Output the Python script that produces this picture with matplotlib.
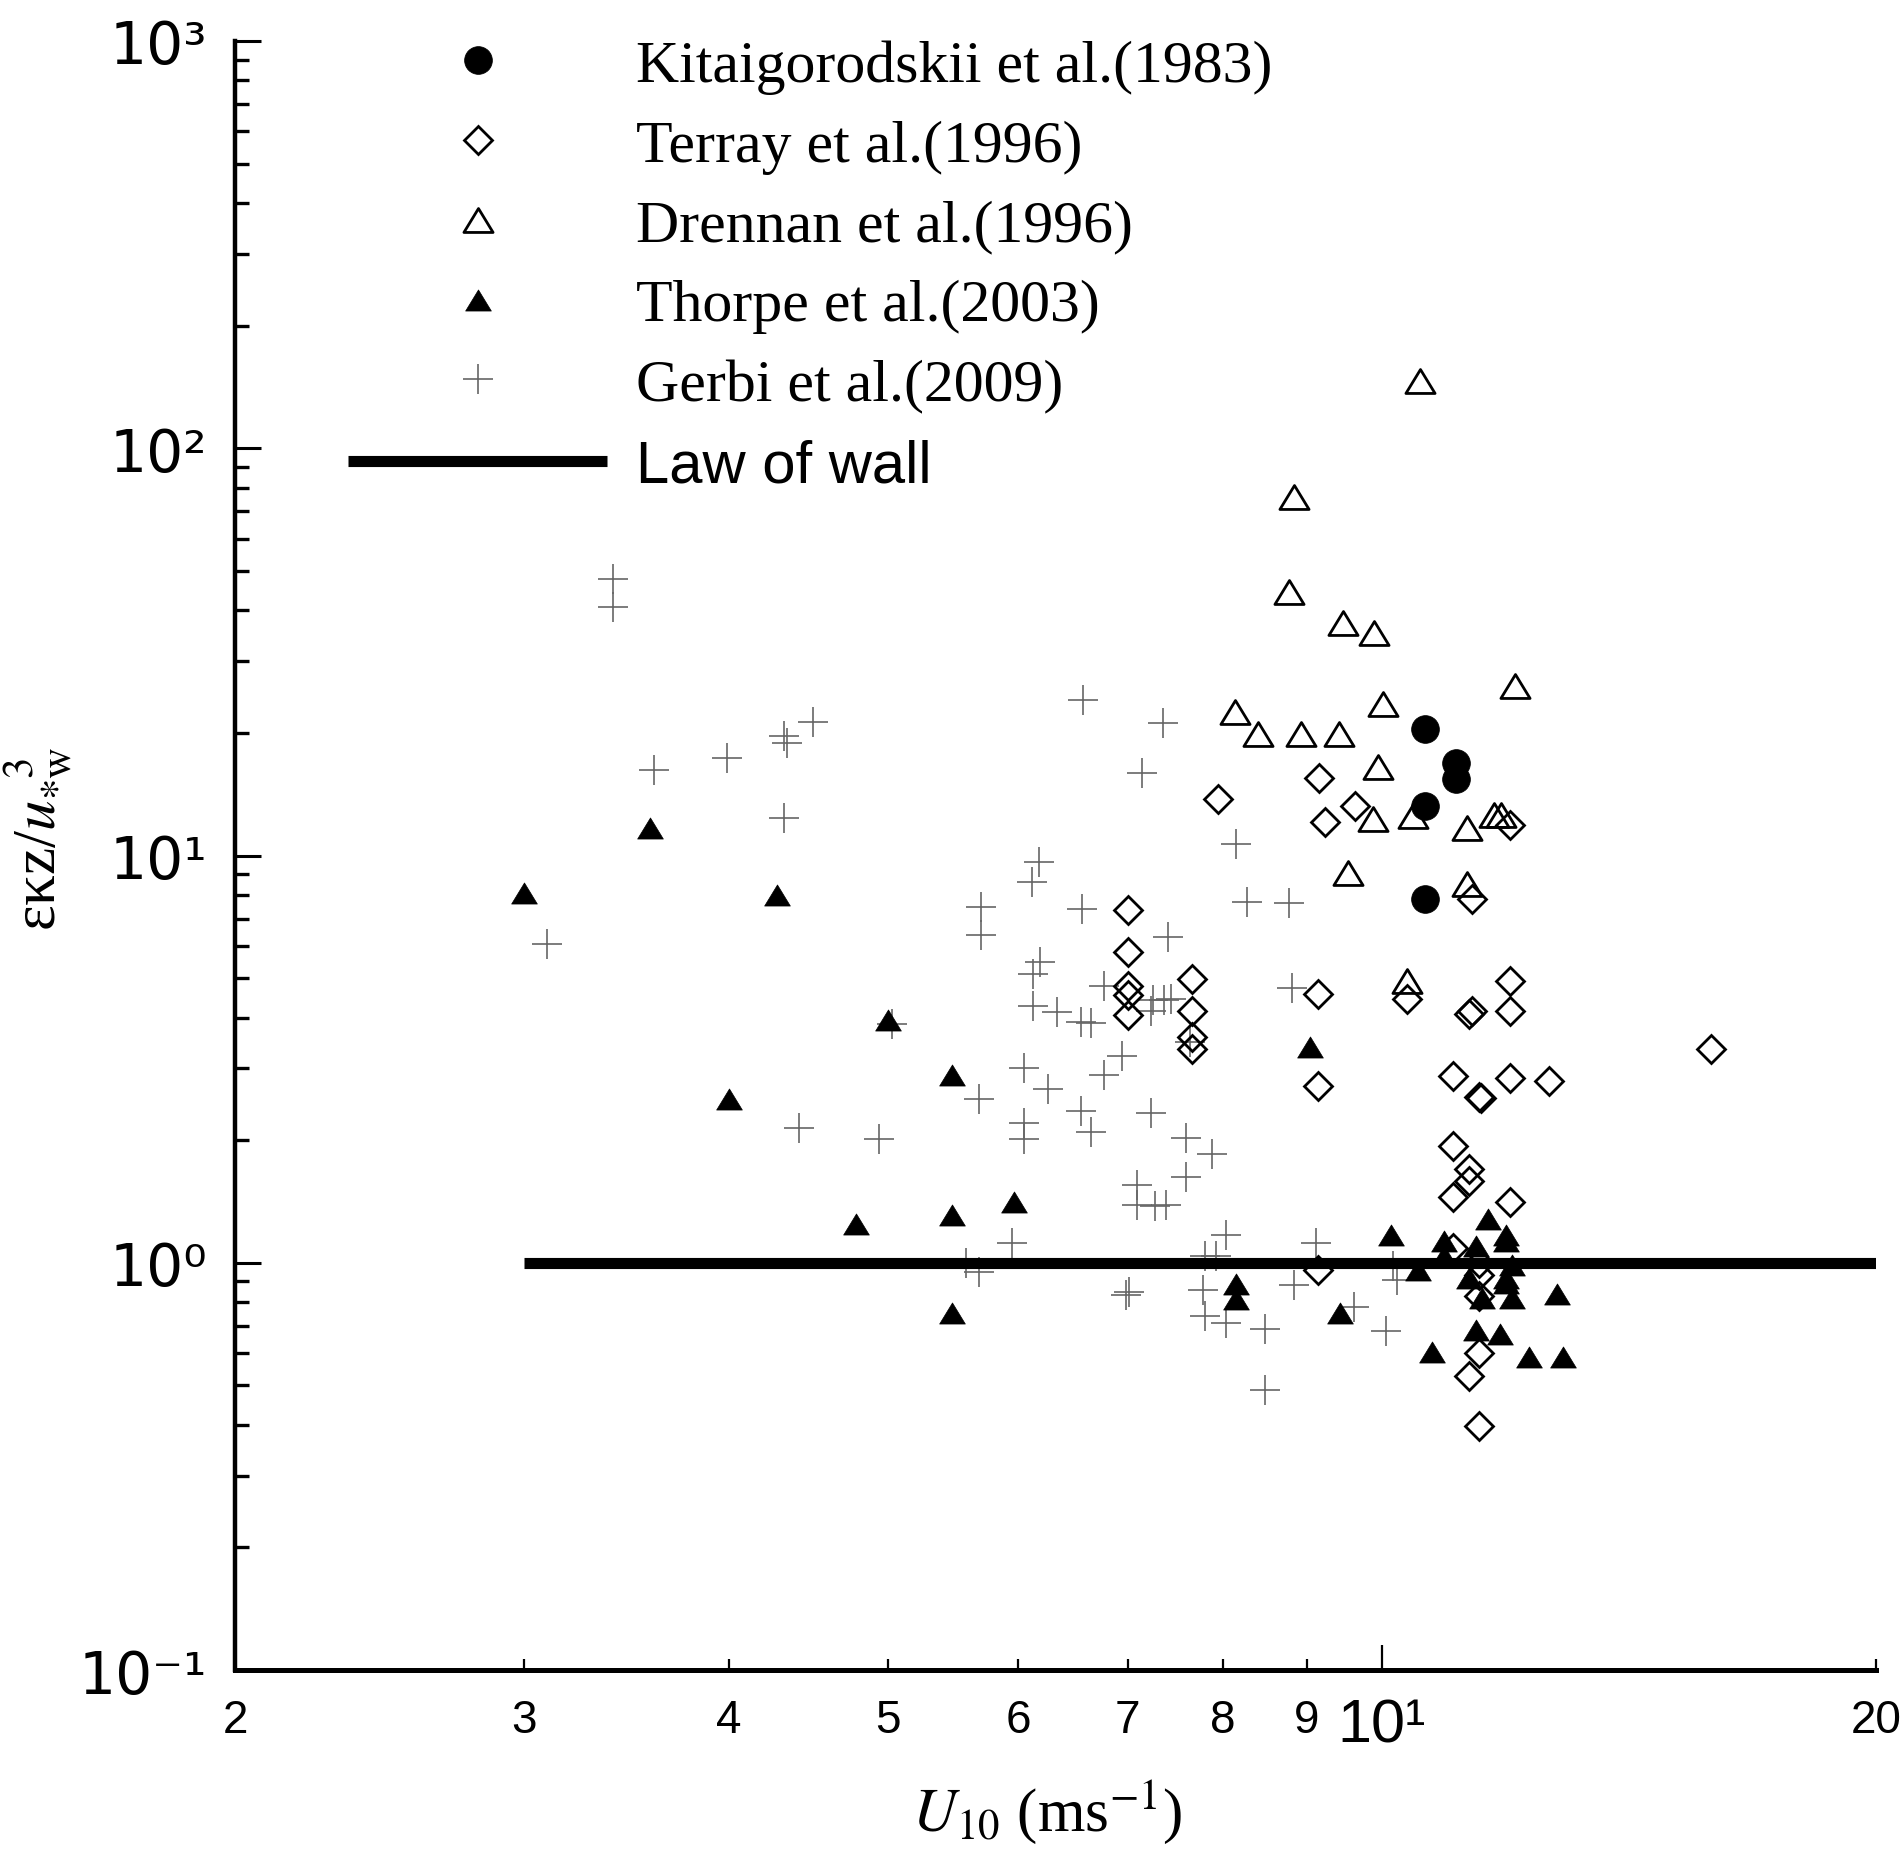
import matplotlib
matplotlib.use('Agg')
import matplotlib.pyplot as plt
from matplotlib.ticker import FixedLocator, FixedFormatter, NullFormatter, LogLocator
from matplotlib.path import Path

plt.rcParams['font.family'] = ['Liberation Serif', 'DejaVu Serif']
plt.rcParams['mathtext.fontset'] = 'stix'

# ---------------- data (U10 in m/s, eps*kappa*z/u*w^3) ----------------
kit_u = [10.62, 11.1, 11.1, 10.62, 10.62]
kit_e = [20.4, 16.9, 15.4, 13.2, 7.8]

terray_u = [7.94, 9.15, 9.63, 9.23, 11.96, 11.35,
            7.0, 7.0, 7.0, 7.0, 7.0,
            7.66, 7.66, 7.66, 7.66,
            9.14, 9.14, 9.14, 10.35,
            11.96, 11.96, 11.3, 11.35, 15.86,
            11.04, 11.46, 11.49, 11.96, 12.64,
            11.04, 11.3, 11.3, 11.04, 11.96,
            11.04, 11.46, 11.46, 11.46, 11.46, 11.3, 11.46]
terray_e = [13.8, 15.5, 13.2, 12.1, 11.9, 7.8,
            7.33, 5.78, 4.79, 4.54, 4.05,
            4.98, 4.15, 3.59, 3.34,
            4.58, 2.72, 0.962, 4.44,
            4.91, 4.15, 4.09, 4.14, 3.34,
            2.88, 2.56, 2.54, 2.84, 2.79,
            1.94, 1.70, 1.59, 1.45, 1.41,
            1.09, 1.00, 0.934, 0.829, 0.599, 0.526, 0.397]

drennan_u = [10.55, 8.84, 8.78, 9.47, 9.89, 12.05, 10.02, 8.14, 8.40, 8.93,
             9.41, 9.95, 9.88, 10.45, 11.27, 11.70, 11.81, 9.53, 11.27, 10.36]
drennan_e = [146, 76.0, 44.4, 37.3, 35.2, 26.0, 23.6, 22.5, 19.9, 19.9,
             19.9, 16.5, 12.3, 12.5, 11.7, 12.6, 12.6, 9.04, 8.5, 4.91]

thorpe_u = [3.0, 3.58, 4.28, 4.0, 5.0, 5.47, 4.78, 5.47, 5.97, 5.47,
            9.04, 8.15, 8.15, 9.43, 10.12, 10.52, 10.91, 10.91, 11.61, 11.41,
            11.90, 11.90, 12.0, 11.29, 11.90, 11.90, 11.50, 12.0, 12.79, 11.41,
            11.80, 10.72, 12.29, 12.89]
thorpe_e = [8.07, 11.66, 7.99, 2.52, 3.95, 2.89, 1.245, 1.31, 1.41, 0.751,
            3.38, 0.889, 0.813, 0.751, 1.17, 0.962, 1.13, 1.04, 1.28, 1.10,
            1.17, 1.13, 0.99, 0.915, 0.915, 0.89, 0.821, 0.821, 0.838, 0.684,
            0.667, 0.604, 0.587, 0.587]

gerbi_u = [3.40, 3.40, 4.50, 4.32, 4.34, 3.99, 3.60, 4.32, 3.10, 5.03,
           4.41, 4.94, 6.57, 7.35, 7.14, 8.15, 6.18, 6.12, 5.70, 5.70,
           6.56, 8.27, 8.78, 6.19, 6.13, 7.41, 6.77, 6.13, 6.34, 6.55,
           6.65, 7.25, 7.23, 7.44, 7.36, 7.64, 8.81, 6.94, 6.77, 6.05,
           6.26, 5.68, 6.05, 6.05, 6.55, 6.65, 7.23, 7.60, 7.88, 7.60,
           7.09, 7.09, 7.27, 7.38, 5.95, 8.03, 7.80, 7.92, 9.12, 5.58,
           5.68, 6.98, 7.01, 7.78, 7.80, 8.03, 8.49, 8.84, 8.49, 10.16,
           10.21, 9.61, 10.06]
gerbi_e = [47.8, 40.7, 21.3, 19.7, 18.9, 17.4, 16.2, 12.35, 6.07, 3.86,
           2.14, 2.01, 24.1, 21.1, 15.9, 10.7, 9.64, 8.60, 7.49, 6.38,
           7.37, 7.67, 7.64, 5.48, 5.11, 6.32, 4.79, 4.28, 4.13, 3.90,
           3.87, 4.41, 4.15, 4.45, 4.41, 3.48, 4.74, 3.21, 2.89, 3.01,
           2.67, 2.53, 2.20, 2.01, 2.36, 2.09, 2.33, 2.02, 1.85, 1.62,
           1.55, 1.39, 1.38, 1.39, 1.12, 1.17, 1.04, 1.04, 1.12, 1.00,
           0.949, 0.834, 0.848, 0.859, 0.740, 0.711, 0.688, 0.88, 0.486, 0.981,
           0.906, 0.777, 0.679]

law_u = [3, 20]
law_e = [1, 1]

labels = ['Kitaigorodskii et al.(1983)', 'Terray et al.(1996)', 'Drennan et al.(1996)',
          'Thorpe et al.(2003)', 'Gerbi et al.(2009)', 'Law of wall']

y_ticks = [0.1, 1, 10, 100, 1000]
y_ticklabels = ['10\u207b\u00b9', '10\u2070', '10\u00b9', '10\u00b2', '10\u00b3']
x_minor = [2, 3, 4, 5, 6, 7, 8, 9, 20]
x_minor_labels = ['2', '3', '4', '5', '6', '7', '8', '9', '20']
x_major = [10]
x_major_labels = ['10\u00b9']

# ---------------- figure ----------------
fig = plt.figure(figsize=(19, 18.65), dpi=100)
ax = fig.add_axes([0.1237, 0.104, 0.8637, 0.8735])
ax.set_xscale('log')
ax.set_yscale('log')
ax.set_xlim(2, 20)
ax.set_ylim(0.1, 1000)

tri_path = Path([(-1, -0.82), (1, -0.82), (0, 0.82), (-1, -0.82)], closed=True)

h_ger, = ax.plot(gerbi_u, gerbi_e, ls='none', marker='+', ms=21, mew=1.2,
                 color='#666666', label=labels[4])
h_ter, = ax.plot(terray_u, terray_e, ls='none', marker='D', ms=14, mew=2.0,
                 mfc='none', mec='black', label=labels[1])
h_dre, = ax.plot(drennan_u, drennan_e, ls='none', marker=tri_path, ms=21, mew=2.0,
                 mfc='none', mec='black', label=labels[2])
h_law, = ax.plot(law_u, law_e, color='black', lw=8, solid_capstyle='butt',
                 label=labels[5])
h_tho, = ax.plot(thorpe_u, thorpe_e, ls='none', marker=tri_path, ms=18.5, mew=0.5,
                 mfc='black', mec='black', label=labels[3])
h_kit, = ax.plot(kit_u, kit_e, ls='none', marker='o', ms=20, mew=0.5,
                 mfc='black', mec='black', label=labels[0])

# spines
for s in ['top', 'right']:
    ax.spines[s].set_visible(False)
ax.spines['left'].set_linewidth(3.2)
ax.spines['bottom'].set_linewidth(3.6)

# y ticks
ax.yaxis.set_major_locator(FixedLocator(y_ticks))
ax.yaxis.set_major_formatter(FixedFormatter(y_ticklabels))
ax.yaxis.set_minor_locator(LogLocator(base=10, subs=range(2, 10)))
ax.yaxis.set_minor_formatter(NullFormatter())
ax.tick_params(axis='y', which='major', direction='in', length=19, width=2.2,
               pad=20, labelsize=42, labelfontfamily='DejaVu Sans')
ax.tick_params(axis='y', which='minor', direction='in', length=10, width=2.4)

# x ticks
ax.xaxis.set_major_locator(FixedLocator(x_major))
ax.xaxis.set_major_formatter(FixedFormatter(x_major_labels))
ax.xaxis.set_minor_locator(FixedLocator(x_minor))
ax.xaxis.set_minor_formatter(FixedFormatter(x_minor_labels))
ax.tick_params(axis='x', which='major', direction='in', length=18, width=1.6,
               pad=20, labelsize=44, labelfontfamily=['Liberation Sans Narrow', 'Liberation Sans'])
ax.tick_params(axis='x', which='minor', direction='in', length=8, width=1.6,
               pad=20, labelsize=33, labelfontfamily=['Liberation Sans Narrow', 'Liberation Sans'])

# axis labels
ax.set_xlabel(r'$U_{10}$ (ms$^{-1}$)', fontsize=44)
ax.xaxis.set_label_coords(0.495, -0.066)
ax.set_ylabel('\u03b5\u03baz/' + r'$u_{*\mathrm{w}}^{\;\;3}$', fontsize=44)
ax.yaxis.set_label_coords(-0.098, 0.511)

# legend
leg = ax.legend([h_kit, h_ter, h_dre, h_tho, h_ger, h_law], labels,
                loc='upper left', bbox_to_anchor=(348 / 1900, 1 - 40 / 1865),
                bbox_transform=fig.transFigure, frameon=False, fontsize=43,
                handlelength=4.34, handletextpad=0.49, labelspacing=0.42,
                borderpad=0, borderaxespad=0, numpoints=1)
leg.get_texts()[5].set_fontfamily(['Liberation Sans', 'DejaVu Sans'])

fig.savefig('out.png', dpi=100)
